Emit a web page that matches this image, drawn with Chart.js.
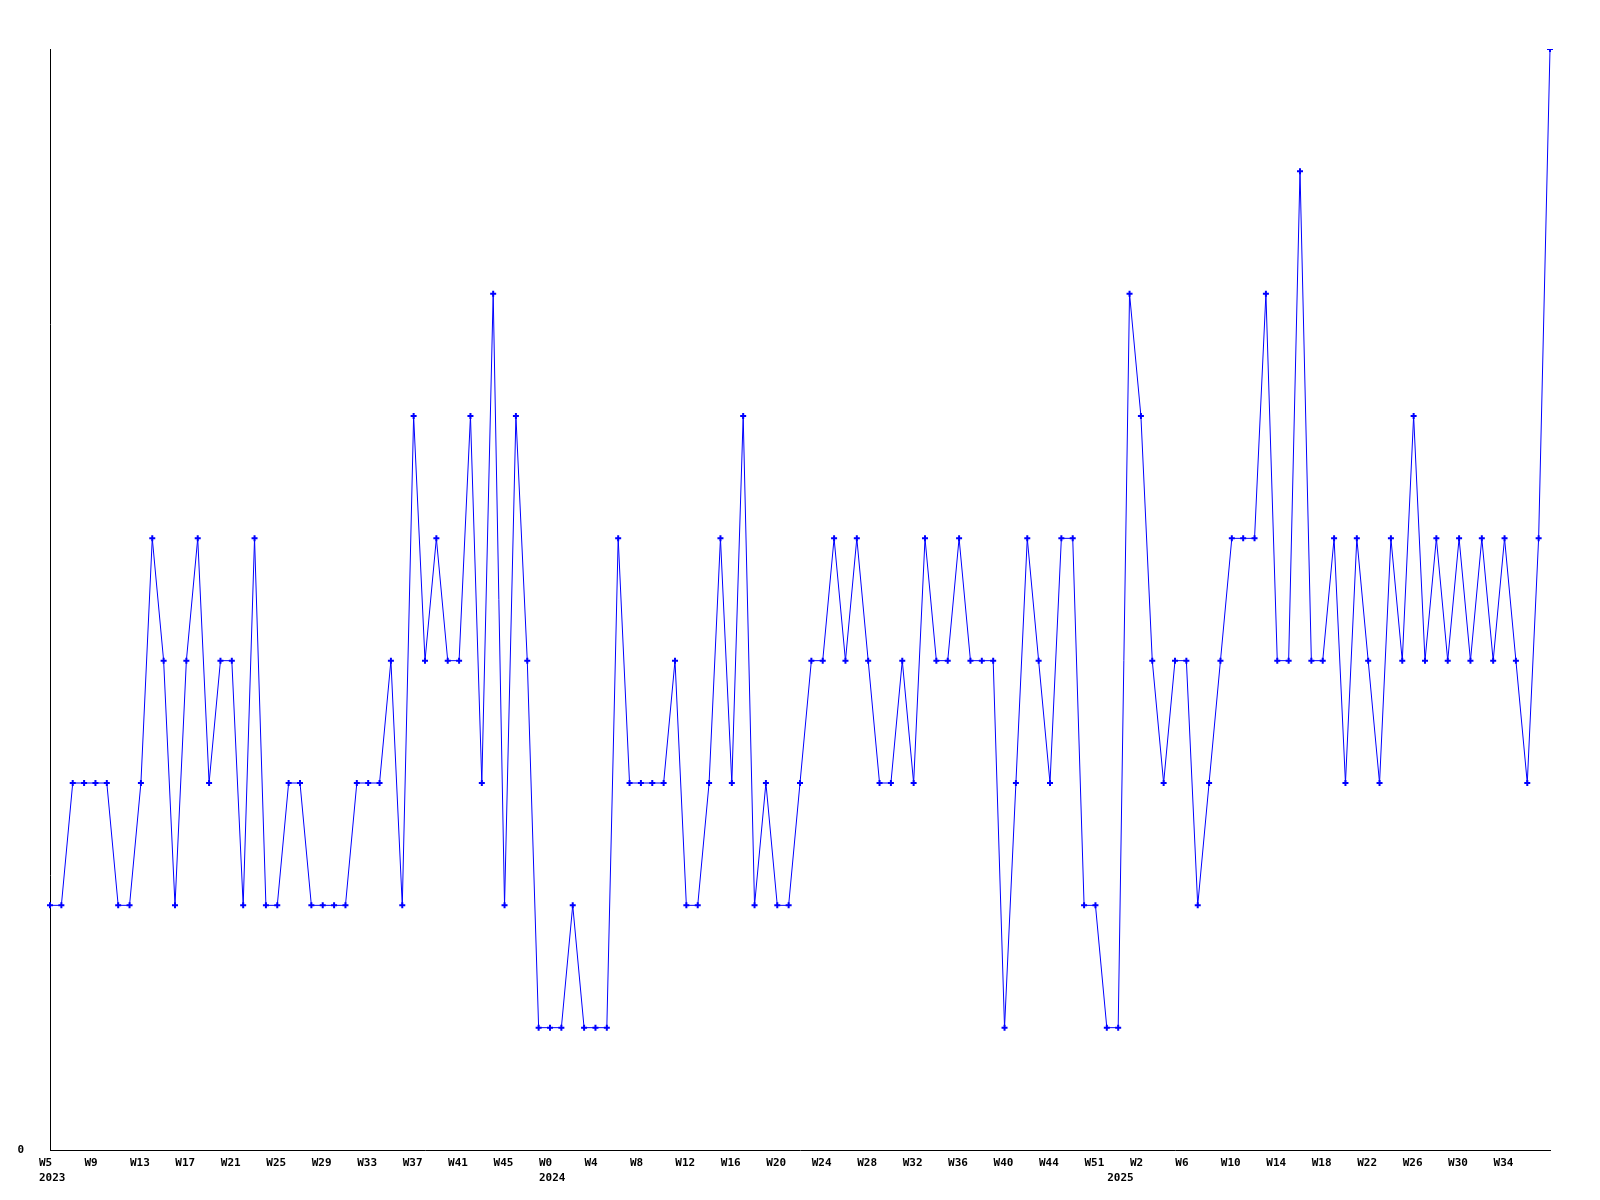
<!DOCTYPE html>
<html>
<head>
<meta charset="utf-8">
<script src="https://cdn.jsdelivr.net/npm/chart.js@4.4.1/dist/chart.umd.min.js"></script>
<style>
  html, body { margin: 0; padding: 0; background: #fff; }
</style>
</head>
<body>
<canvas id="myChart" width="1600" height="1200"></canvas>
<script>
// week buckets, "year week"
const weeks = [
  "2023 W5","2023 W6","2023 W7","2023 W8","2023 W9","2023 W10","2023 W11","2023 W12","2023 W13","2023 W14",
  "2023 W15","2023 W16","2023 W17","2023 W18","2023 W19","2023 W20","2023 W21","2023 W22","2023 W23","2023 W24",
  "2023 W25","2023 W26","2023 W27","2023 W28","2023 W29","2023 W30","2023 W31","2023 W32","2023 W33","2023 W34",
  "2023 W35","2023 W36","2023 W37","2023 W38","2023 W39","2023 W40","2023 W41","2023 W42","2023 W43","2023 W44",
  "2023 W45","2023 W47","2023 W49","2023 W51",
  "2024 W0","2024 W1","2024 W2","2024 W3","2024 W4","2024 W5","2024 W6","2024 W7","2024 W8","2024 W9",
  "2024 W10","2024 W11","2024 W12","2024 W13","2024 W14","2024 W15","2024 W16","2024 W17","2024 W18","2024 W19",
  "2024 W20","2024 W21","2024 W22","2024 W23","2024 W24","2024 W25","2024 W26","2024 W27","2024 W28","2024 W29",
  "2024 W30","2024 W31","2024 W32","2024 W33","2024 W34","2024 W35","2024 W36","2024 W37","2024 W38","2024 W39",
  "2024 W40","2024 W41","2024 W42","2024 W43","2024 W44","2024 W46","2024 W48","2024 W50","2024 W51","2024 W52",
  "2025 W0","2025 W1","2025 W2","2025 W3","2025 W4","2025 W5","2025 W6","2025 W7","2025 W8","2025 W9",
  "2025 W10","2025 W11","2025 W12","2025 W13","2025 W14","2025 W15","2025 W16","2025 W17","2025 W18","2025 W19",
  "2025 W20","2025 W21","2025 W22","2025 W23","2025 W24","2025 W25","2025 W26","2025 W27","2025 W28","2025 W29",
  "2025 W30","2025 W31","2025 W32","2025 W33","2025 W34","2025 W35","2025 W36","2025 W37","2025 W38"
];

const counts = [
  2,2,3,3,3,3,2,2,3,5,
  4,2,4,5,3,4,4,2,5,2,
  2,3,3,2,2,2,2,3,3,3,
  4,2,6,4,5,4,4,6,3,7,
  2,6,4,1,1,1,2,1,1,1,
  5,3,3,3,3,4,2,2,3,5,
  3,6,2,3,2,2,3,4,4,5,
  4,5,4,3,3,4,3,5,4,4,
  5,4,4,4,1,3,5,4,3,5,
  5,2,2,1,1,7,6,4,3,4,
  4,2,3,4,5,5,5,7,4,4,
  8,4,4,5,3,5,4,3,5,4,
  6,4,5,4,5,4,5,4,5,4,
  3,5,9
];

const labelEvery = 4;
const yMax = 9;

const fontSpec = { family: "DejaVu Sans Mono", size: 11, weight: "bold", lineHeight: 1.36 };

const xLabel = (i) => {
  const [yr, wk] = weeks[i].split(" ");
  const newYear = i === 0 || weeks[i - 1].split(" ")[0] !== yr;
  // no week label right at the end of the axis
  const show = i % labelEvery === 0 && i < weeks.length - labelEvery;
  const wkText = show ? wk : "";
  if (newYear) return [wkText, yr];
  return wkText;
};

new Chart("myChart", {
  type: "line",
  data: {
    labels: weeks,
    datasets: [{
      data: counts,
      borderColor: "#0000ff",
      borderWidth: 1,
      fill: false,
      tension: 0,
      pointStyle: "cross",
      pointRadius: 3,
      pointBorderWidth: 2,
      pointBorderColor: "#0000ff",
      pointBackgroundColor: "#0000ff",
      clip: { left: false, top: 0, right: false, bottom: false }
    }]
  },
  options: {
    responsive: false,
    animation: false,
    layout: { padding: { top: 49, right: 50, left: 0, bottom: 0 } },
    plugins: { legend: { display: false }, tooltip: { enabled: false } },
    scales: {
      x: {
        offset: false,
        grid: { display: false, drawTicks: false },
        border: { display: true, color: "#000", width: 1 },
        ticks: {
          autoSkip: false, maxRotation: 0, minRotation: 0,
          align: "start", labelOffset: -11, padding: 6,
          color: "#000", font: fontSpec,
          callback: (v, i) => xLabel(i)
        },
        afterFit: (s) => { s.height = 50; }
      },
      y: {
        min: 0, max: yMax,
        grid: { display: false, drawTicks: false },
        border: { display: true, color: "#000", width: 1 },
        ticks: {
          stepSize: 1, padding: 26, color: "#000", font: fontSpec,
          callback: (v) => v === 0 ? "0" : ""
        },
        afterFit: (s) => { s.width = 50; }
      }
    }
  }
});
</script>
</body>
</html>
